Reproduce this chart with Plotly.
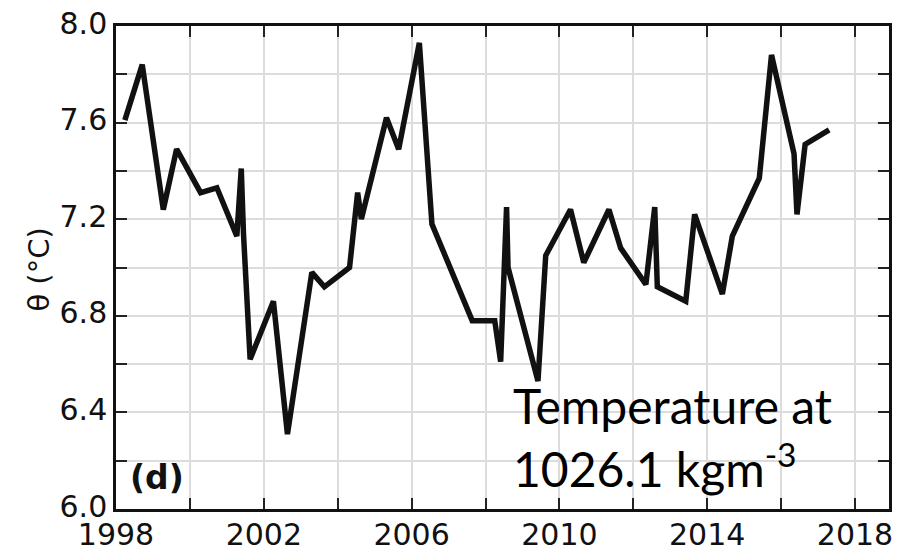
import plotly.graph_objects as go

# Potential temperature on the 1026.1 kg/m^3 isopycnal, by survey date
years = [
    1998.24, 1998.71, 1999.28, 1999.64, 2000.29, 2000.73, 2001.27, 2001.39,
    2001.45, 2001.63, 2002.26, 2002.64, 2003.30, 2003.64, 2004.32, 2004.54,
    2004.64, 2005.32, 2005.65, 2006.21, 2006.55, 2007.64, 2008.25, 2008.41,
    2008.57, 2008.61, 2009.42, 2009.63, 2010.30, 2010.66, 2011.34, 2011.66,
    2012.34, 2012.58, 2012.65, 2013.42, 2013.66, 2014.41, 2014.68, 2015.41,
    2015.74, 2016.35, 2016.43, 2016.65, 2017.30,
]
theta = [
    7.61, 7.84, 7.24, 7.49, 7.31, 7.33, 7.13, 7.41,
    7.14, 6.62, 6.86, 6.31, 6.98, 6.92, 7.00, 7.31,
    7.20, 7.62, 7.49, 7.93, 7.18, 6.78, 6.78, 6.61,
    7.25, 7.00, 6.53, 7.05, 7.24, 7.02, 7.24, 7.08,
    6.93, 7.25, 6.92, 6.86, 7.22, 6.89, 7.13, 7.37,
    7.88, 7.47, 7.22, 7.51, 7.57,
]

x_tickvals = [1998, 2000, 2002, 2004, 2006, 2008, 2010, 2012, 2014, 2016, 2018]
x_ticktext = ["1998", "", "2002", "", "2006", "", "2010", "", "2014", "", "2018"]
y_tickvals = [6.0, 6.2, 6.4, 6.6, 6.8, 7.0, 7.2, 7.4, 7.6, 7.8, 8.0]
y_ticktext = ["6.0", "", "6.4", "", "6.8", "", "7.2", "", "7.6", "", "8.0"]

tick_font = dict(family="DejaVu Sans", size=30, color="#111111")

fig = go.Figure()
fig.add_trace(go.Scatter(
    x=years, y=theta, mode="lines",
    line=dict(color="#111111", width=5.5),
    hoverinfo="skip", showlegend=False,
))

axis_common = dict(
    showline=True, linecolor="#111111", linewidth=2.5, mirror="ticks",
    ticks="inside", ticklen=11, tickwidth=1.5, tickcolor="#222222",
    showgrid=True, gridcolor="#dcdcdc", gridwidth=1.5,
    zeroline=False, tickfont=tick_font, automargin=False,
)

fig.update_xaxes(range=[1998, 2018.92], tickmode="array",
                 tickvals=x_tickvals, ticktext=x_ticktext,
                 ticklabelstandoff=-3, **axis_common)
fig.update_yaxes(range=[6.0, 8.0], tickmode="array",
                 tickvals=y_tickvals, ticktext=y_ticktext,
                 ticklabelstandoff=0, ticklabelshift=-3, **axis_common)

fig.update_layout(
    width=897, height=551,
    margin=dict(l=116, r=8, t=26, b=42),
    paper_bgcolor="white", plot_bgcolor="white",
    annotations=[
        dict(text="θ (°C)", textangle=-90, xref="paper", yref="paper",
             x=-0.1, y=0.495, xanchor="center", yanchor="middle",
             showarrow=False, font=dict(family="DejaVu Sans", size=29, color="#111111")),
        dict(text="<b>(d)</b>", xref="paper", yref="paper",
             x=0.016, y=0.02, xanchor="left", yanchor="bottom",
             showarrow=False, font=dict(family="DejaVu Sans", size=33, color="#111111")),
        dict(text="Temperature at", xref="paper", yref="paper",
             x=0.511, y=0.215, xanchor="left", yanchor="middle",
             showarrow=False, font=dict(family="Lato", size=48, color="#000000")),
        dict(text="1026.1 kgm<sup>-3</sup>", xref="paper", yref="paper",
             x=0.511, y=0.091, xanchor="left", yanchor="middle",
             showarrow=False, font=dict(family="Lato", size=48, color="#000000")),
    ],
)

fig.write_html("out.html")
